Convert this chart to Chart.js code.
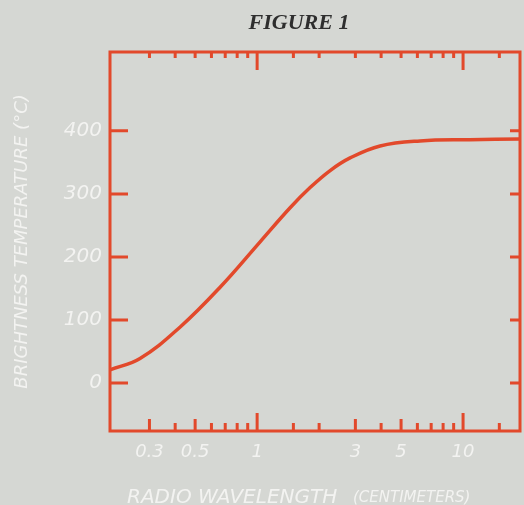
<!DOCTYPE html>
<html>
<head>
<meta charset="utf-8">
<script src="https://cdn.jsdelivr.net/npm/chart.js@4.4.1/dist/chart.umd.min.js"></script>
<style>
html, body { margin: 0; padding: 0; background: #d5d7d3; }
#wrap { width: 524px; height: 505px; position: relative; }
</style>
</head>
<body>
<div id="wrap"><canvas id="chart"></canvas></div>
<script>
// wavelength (cm) vs brightness temperature (°C)
const wavelength  = [0.193, 0.27, 0.423, 0.661, 1.034, 1.446, 1.808, 2.262, 2.828, 3.955, 6.18, 10.8, 18.9];
const temperature = [21, 39, 89, 152, 224, 278, 310, 337, 357, 376, 384, 386, 387];

// axis ticks
const xLabelValues = [0.3, 0.5, 1, 3, 5, 10];
const xMinorTicks  = [0.3, 0.4, 0.5, 0.6, 0.7, 0.8, 0.9, 1.5, 2, 3, 4, 5, 6, 7, 8, 9, 15];
const xMajorTicks  = [1, 10];
const yTickValues  = [0, 100, 200, 300, 400];

const frameRed  = '#e2492b';
const labelGrey = '#f3f3f1';
const fontFam   = '"DejaVu Sans", sans-serif';

// red box round the plot with inward tick marks
const framePlugin = {
    id: 'frame',
    afterDatasetsDraw(chart) {
        const { ctx, chartArea: a, scales } = chart;
        const x = scales.x, y = scales.y;
        ctx.save();
        ctx.strokeStyle = frameRed;
        ctx.lineWidth = 3;
        ctx.strokeRect(a.left, a.top, a.right - a.left, a.bottom - a.top);
        ctx.beginPath();
        xMinorTicks.forEach(v => {
            const px = x.getPixelForValue(v);
            const lenB = xLabelValues.includes(v) ? 12 : 8;
            ctx.moveTo(px, a.top);    ctx.lineTo(px, a.top + 6);
            ctx.moveTo(px, a.bottom); ctx.lineTo(px, a.bottom - lenB);
        });
        xMajorTicks.forEach(v => {
            const px = x.getPixelForValue(v);
            ctx.moveTo(px, a.top);    ctx.lineTo(px, a.top + 18);
            ctx.moveTo(px, a.bottom); ctx.lineTo(px, a.bottom - 18);
        });
        yTickValues.forEach(v => {
            const py = y.getPixelForValue(v);
            ctx.moveTo(a.left, py);  ctx.lineTo(a.left + 18, py);
            ctx.moveTo(a.right, py); ctx.lineTo(a.right - 10, py);
        });
        ctx.stroke();
        ctx.restore();
    }
};

// figure title and the two-size x axis title
const textPlugin = {
    id: 'texts',
    afterDraw(chart) {
        const ctx = chart.ctx;
        ctx.save();
        ctx.textBaseline = 'alphabetic';
        ctx.fillStyle = '#2e2e2e';
        ctx.font = 'italic bold 22px "Liberation Serif", serif';
        ctx.textAlign = 'center';
        ctx.fillText('FIGURE 1', 299, 29);

        ctx.textAlign = 'left';
        ctx.fillStyle = labelGrey;
        ctx.font = 'italic 20px ' + fontFam;
        ctx.fillText('RADIO WAVELENGTH', 127, 503);
        ctx.font = 'italic 15px ' + fontFam;
        ctx.fillText('(CENTIMETERS)', 353, 502);
        ctx.restore();
    }
};

new Chart(document.getElementById('chart'), {
    type: 'line',
    data: {
        datasets: [{
            data: wavelength.map((w, i) => ({ x: w, y: temperature[i] })),
            borderColor: frameRed,
            borderWidth: 3.5,
            pointRadius: 0,
            tension: 0.4,
            fill: false
        }]
    },
    options: {
        responsive: true,
        maintainAspectRatio: false,
        animation: false,
        layout: { padding: { top: 52, right: 4, left: 0, bottom: 0 } },
        plugins: { legend: { display: false }, tooltip: { enabled: false } },
        scales: {
            x: {
                type: 'logarithmic',
                min: 0.193,
                max: 18.9,
                afterBuildTicks: s => { s.ticks = xLabelValues.map(v => ({ value: v })); },
                afterFit: s => { s.height = 74; },
                grid: { display: false, drawTicks: false },
                border: { display: false },
                ticks: {
                    color: labelGrey,
                    font: { family: fontFam, size: 18, style: 'italic' },
                    padding: 11,
                    maxRotation: 0,
                    autoSkip: false,
                    callback: v => String(v)
                }
            },
            y: {
                min: -76,
                max: 525,
                afterBuildTicks: s => { s.ticks = yTickValues.map(v => ({ value: v })); },
                afterFit: s => { s.width = 110; },
                grid: { display: false, drawTicks: false },
                border: { display: false },
                ticks: {
                    color: labelGrey,
                    font: { family: fontFam, size: 20, style: 'italic' },
                    padding: 8
                },
                title: {
                    display: true,
                    text: 'BRIGHTNESS TEMPERATURE (°C)',
                    color: labelGrey,
                    font: { family: fontFam, size: 18, style: 'italic' },
                    padding: { top: 12, bottom: 0 }
                }
            }
        }
    },
    plugins: [framePlugin, textPlugin]
});
</script>
</body>
</html>
